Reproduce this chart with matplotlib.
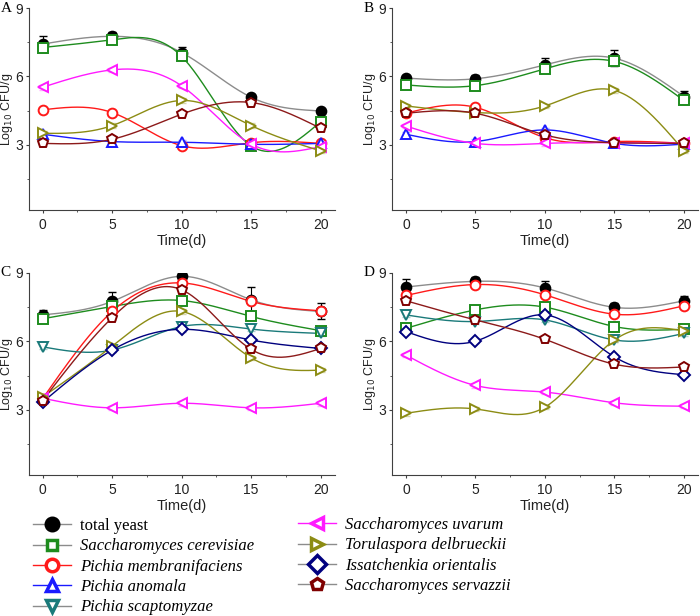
import numpy as np
import matplotlib
matplotlib.use("Agg")
import matplotlib.pyplot as plt
from matplotlib.lines import Line2D

plt.rcParams['font.family'] = ['Liberation Sans', 'DejaVu Sans']

days = [0, 5, 10, 15, 20]

species = ["total yeast", "Saccharomyces cerevisiae", "Pichia membranifaciens",
           "Pichia anomala", "Pichia scaptomyzae", "Saccharomyces uvarum",
           "Torulaspora delbrueckii", "Issatchenkia orientalis",
           "Saccharomyces servazzii"]
markers = ["o", "s", "o", "^", "v", "<", ">", "D", "p"]
mcolors = ["black", "#1e8c1e", "#ff1a1a", "#1a1aff", "#1a7a7a", "#ff1aff",
           "#8c8c14", "#00007f", "#7f0000"]
lcolors = ["#8c8c8c", "#1e8c1e", "#ff1a1a", "#1a1aff", "#1a7a7a", "#ff1aff",
           "#8c8c14", "#00007f", "#8c1a1a"]
legend_lcolors = ["#8c8c8c", "#8c8c8c", "#ff1a1a", "#1a1aff", "#8c8c8c",
                  "#ff1aff", "#8c8c8c", "#8c8c8c", "#8c8c8c"]

# panel A
a_total = [7.42, 7.76, 7.05, 5.09, 4.49]
a_cerev = [7.27, 7.61, 6.88, 2.96, 4.02]
a_membr = [4.54, 4.42, 2.97, 3.10, 3.07]
a_anoma = [3.47, 3.15, 3.12, 3.03, 3.07]
a_uvaru = [5.53, 6.29, 5.59, 3.04, 2.93]
a_torul = [3.51, 3.85, 4.95, 3.85, 2.74]
a_serva = [3.07, 3.25, 4.35, 4.86, 3.73]
a_err = [0.35, 0.2, 0.25, 0.15, 0.05]

# panel B
b_total = [5.93, 5.90, 6.51, 6.80, 5.12]
b_cerev = [5.63, 5.60, 6.34, 6.66, 4.95]
b_membr = [4.39, 4.65, 3.32, 3.15, 3.07]
b_anoma = [3.47, 3.15, 3.66, 3.07, 3.04]
b_uvaru = [3.83, 3.07, 3.07, 3.10, 3.07]
b_torul = [4.71, 4.42, 4.71, 5.39, 2.75]
b_serva = [4.39, 4.39, 3.44, 3.10, 3.07]
b_err = [0.15, 0.15, 0.3, 0.35, 0.25]

# panel C
c_total = [7.16, 7.75, 8.85, 7.82, 7.31]
c_cerev = [6.99, 7.53, 7.79, 7.09, 6.47]
c_membr = [3.49, 7.31, 8.56, 7.75, 7.34]
c_scapt = [5.76, 5.62, 6.65, 6.54, 6.35]
c_uvaru = [3.51, 3.09, 3.29, 3.09, 3.29]
c_torul = [3.56, 5.79, 7.31, 5.28, 4.74]
c_issat = [3.34, 5.62, 6.53, 6.06, 5.69]
c_serva = [3.41, 7.04, 8.26, 5.65, 5.69]
c_err = [0.2, 0.4, 0.15, 0.55, 0.35]

# panel D
d_total = [8.38, 8.63, 8.34, 7.49, 7.78]
d_cerev = [6.57, 7.38, 7.50, 6.65, 6.53]
d_membr = [8.01, 8.49, 8.04, 7.19, 7.56]
d_scapt = [7.16, 6.87, 6.94, 6.06, 6.35]
d_uvaru = [5.40, 4.07, 3.78, 3.31, 3.16]
d_torul = [2.85, 3.04, 3.12, 6.06, 6.46]
d_issat = [6.43, 6.01, 7.16, 5.32, 4.54]
d_serva = [7.78, 6.94, 6.09, 5.00, 4.88]
d_err = [0.35, 0.2, 0.3, 0.2, 0.2]

panels = [
    ("A", {0: a_total, 1: a_cerev, 2: a_membr, 3: a_anoma, 5: a_uvaru,
           6: a_torul, 8: a_serva}, a_err),
    ("B", {0: b_total, 1: b_cerev, 2: b_membr, 3: b_anoma, 5: b_uvaru,
           6: b_torul, 8: b_serva}, b_err),
    ("C", {0: c_total, 1: c_cerev, 2: c_membr, 4: c_scapt, 5: c_uvaru,
           6: c_torul, 7: c_issat, 8: c_serva}, c_err),
    ("D", {0: d_total, 1: d_cerev, 2: d_membr, 4: d_scapt, 5: d_uvaru,
           6: d_torul, 7: d_issat, 8: d_serva}, d_err),
]


def spline(x, y, n=200):
    # natural cubic spline through the points
    x = np.asarray(x, float)
    y = np.asarray(y, float)
    k = len(x)
    h = np.diff(x)
    A = np.zeros((k, k))
    r = np.zeros(k)
    A[0, 0] = A[-1, -1] = 1
    for i in range(1, k - 1):
        A[i, i - 1] = h[i - 1]
        A[i, i] = 2 * (h[i - 1] + h[i])
        A[i, i + 1] = h[i]
        r[i] = 6 * ((y[i + 1] - y[i]) / h[i] - (y[i] - y[i - 1]) / h[i - 1])
    M = np.linalg.solve(A, r)
    xs = np.linspace(x[0], x[-1], n)
    idx = np.clip(np.searchsorted(x, xs) - 1, 0, k - 2)
    x0, x1 = x[idx], x[idx + 1]
    hh = x1 - x0
    t0, t1 = x1 - xs, xs - x0
    ys = (M[idx] * t0 ** 3 + M[idx + 1] * t1 ** 3) / (6 * hh) \
        + (y[idx] / hh - M[idx] * hh / 6) * t0 \
        + (y[idx + 1] / hh - M[idx + 1] * hh / 6) * t1
    return xs, ys


fig = plt.figure(figsize=(7, 6.16), dpi=100)
boxes = [(0.041, 0.659), (0.56, 0.659), (0.041, 0.229), (0.56, 0.229)]
ax_w_px = 0.437 * 700

for (letter, series, err), (left, bottom) in zip(panels, boxes):
    ax = fig.add_axes([left, bottom, 0.437, 0.328])
    for i, vals in series.items():
        xs, ys = spline(days, vals)
        ax.plot(xs, ys, color=lcolors[i], lw=1.0, zorder=2)
        e = err if i == 0 else [0.1] * 5
        ax.errorbar(days, vals, yerr=e, fmt="none", ecolor=mcolors[i] if i == 0 else lcolors[i],
                    elinewidth=0.8, capsize=3, alpha=1 if i == 0 else 0.35, zorder=3)
        ax.plot(days, vals, ls="none", marker=markers[i], ms=7 if i != 7 else 6,
                mfc="black" if i == 0 else "white", mec=mcolors[i], mew=1.4, zorder=4)
    ax.set_xlim(-1, 21)
    ax.set_ylim(0.15, 9)
    ax.set_xticks([0, 5, 10, 15, 20])
    ax.set_xticks([2.5, 7.5, 12.5, 17.5], minor=True)
    ax.set_yticks([3, 6, 9])
    ax.set_yticks([1.5, 4.5, 7.5], minor=True)
    for s in ["top", "right"]:
        ax.spines[s].set_visible(False)
    for s in ["left", "bottom"]:
        ax.spines[s].set_color("#404040")
    ax.tick_params(which="both", direction="out", colors="#404040", labelsize=10,
                   labelcolor="#222222")
    ax.tick_params(which="major", length=2.5)
    ax.tick_params(which="minor", length=1.5)
    ax.tick_params(axis="y", pad=1.5)
    ax.set_xlabel("Time(d)", fontsize=10.5, labelpad=1, color="#222222")
    ax.set_ylabel(r"Log$_{10}$ CFU/g", fontsize=9, color="#222222")
    ax.yaxis.set_label_coords(-14 / ax_w_px, 0.5)
    ax.text(-28 / ax_w_px, 1.0, letter, transform=ax.transAxes, fontsize=11,
            family="Liberation Serif", ha="left", va="center")

handles = []
for i in range(9):
    handles.append(Line2D([0], [0], color=legend_lcolors[i], lw=1.0, marker=markers[i],
                          ms=9 if i not in (1,) else 7.5,
                          mfc="black" if i == 0 else "white",
                          mec=mcolors[i], mew=2.5))

leg_kw = dict(loc="upper left", frameon=False,
              prop={"family": "Liberation Serif", "size": 12, "style": "italic"},
              handlelength=2.3, labelspacing=0.26, handletextpad=0.5,
              borderaxespad=0, borderpad=0)
leg1 = fig.legend(handles[:5], species[:5], bbox_to_anchor=(33 / 700, 1 - 518 / 616), **leg_kw)
leg1.get_texts()[0].set_style("normal")
leg2 = fig.legend(handles[5:], species[5:], bbox_to_anchor=(298 / 700, 1 - 517 / 616), **leg_kw)

fig.savefig("out.png", dpi=100)
